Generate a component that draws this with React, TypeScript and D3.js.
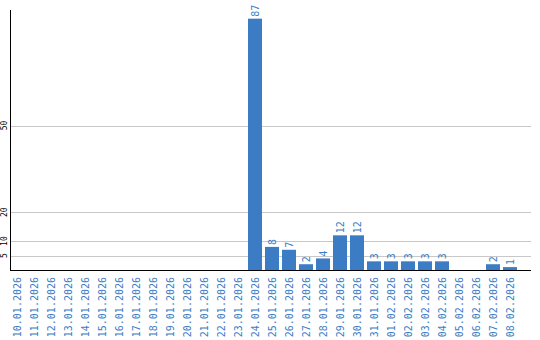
import React from "react";
import * as d3 from "d3";

const dates = [
  "10.01.2026","11.01.2026","12.01.2026","13.01.2026","14.01.2026","15.01.2026",
  "16.01.2026","17.01.2026","18.01.2026","19.01.2026","20.01.2026","21.01.2026",
  "22.01.2026","23.01.2026","24.01.2026","25.01.2026","26.01.2026","27.01.2026",
  "28.01.2026","29.01.2026","30.01.2026","31.01.2026","01.02.2026","02.02.2026",
  "03.02.2026","04.02.2026","05.02.2026","06.02.2026","07.02.2026","08.02.2026",
];
const values = [0,0,0,0,0,0,0,0,0,0,0,0,0,0,87,8,7,2,4,12,12,3,3,3,3,3,0,0,2,1];
const yTicks = [5, 10, 20, 50];

const W = 540, H = 340;
const left = 10, top = 10, bottom = 270, gridRight = 531;
const BLUE = "#3b7cc4";
const MONO = "'DejaVu Sans Mono', 'Liberation Mono', monospace";

export default function App() {
  const x = d3.scaleBand<string>().domain(dates).range([left, 517]).paddingInner(3 / 17).paddingOuter(0);
  const y = d3.scaleLinear().domain([0, 90]).range([bottom, top]);
  return (
    <svg width={W} height={H} style={{ position: "absolute", left: 0, top: 0, background: "#fff" }}>
      {yTicks.map((t) => (
        <g key={t}>
          <line x1={left} x2={gridRight} y1={Math.round(y(t)) + 0.5} y2={Math.round(y(t)) + 0.5} stroke="#c8c8c8" strokeWidth={1} />
          <text
            transform={`translate(4.5,${y(t)}) rotate(-90)`}
            textAnchor="middle"
            dy="0.35em"
            fontFamily={MONO}
            fontSize={8}
            fill="#000"
          >
            {t}
          </text>
        </g>
      ))}
      {dates.map((d, i) => {
        const v = values[i];
        const bx = x(d)!;
        const cx = bx + x.bandwidth() / 2;
        return (
          <g key={d}>
            {v > 0 && (
              <rect x={bx} y={y(v)} width={x.bandwidth()} height={bottom - y(v)} fill={BLUE} />
            )}
            {v > 0 && (
              <text
                transform={`translate(${cx},${y(v) - 2}) rotate(-90)`}
                textAnchor="start"
                dy="0.35em"
                fontFamily={MONO}
                fontSize={10}
                fill={BLUE}
              >
                {v}
              </text>
            )}
            <text
              transform={`translate(${cx},277) rotate(-90)`}
              textAnchor="end"
              dy="0.35em"
              fontFamily={MONO}
              fontSize={10}
              fill={BLUE}
            >
              {d}
            </text>
          </g>
        );
      })}
      <line x1={left + 0.5} x2={left + 0.5} y1={top} y2={bottom} stroke="#000" strokeWidth={1} />
      <line x1={left} x2={gridRight} y1={bottom + 0.5} y2={bottom + 0.5} stroke="#000" strokeWidth={1} />
    </svg>
  );
}
